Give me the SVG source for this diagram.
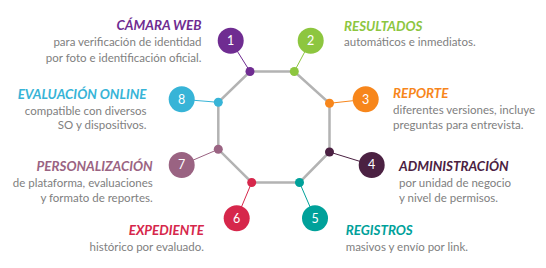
<svg xmlns="http://www.w3.org/2000/svg" width="546" height="268" viewBox="0 0 546 268">
<style>
.t{font-family:Lato,"Open Sans",sans-serif;font-weight:700;font-style:italic;font-size:13.4px}
.b{font-family:Lato,"Open Sans",sans-serif;font-size:11.5px;fill:#808080}
.n{font-family:Lato,"Open Sans",sans-serif;font-size:12.5px;fill:#fff;text-anchor:middle}
.r{text-anchor:end}
.oct{fill:none;stroke:#b3b3b3;stroke-width:2.5;stroke-linejoin:miter}
.sp{stroke-width:1}
</style>
<rect width="546" height="268" fill="#fff"/>
<g id="connectors">
<polygon class="oct" points="250,71.5 294.3,71.5 329.5,103.3 329.5,152 299.5,182.5 251.7,182.5 218.3,149.3 218.3,102.3"/>
<line class="sp" x1="250" y1="71.5" x2="230.7" y2="40.7" stroke="#6f2c91"/>
<line class="sp" x1="294.3" y1="71.5" x2="310.7" y2="40.7" stroke="#8dc63f"/>
<line class="sp" x1="329.5" y1="103.3" x2="365.7" y2="99.3" stroke="#f7861b"/>
<line class="sp" x1="329.5" y1="152" x2="371.7" y2="165" stroke="#4b2142"/>
<line class="sp" x1="299.5" y1="182.5" x2="315" y2="218.3" stroke="#00a19a"/>
<line class="sp" x1="251.7" y1="182.5" x2="236.7" y2="218.3" stroke="#d6274b"/>
<line class="sp" x1="218.3" y1="149.3" x2="181.7" y2="165" stroke="#9a6382"/>
<line class="sp" x1="218.3" y1="102.3" x2="181.7" y2="99.3" stroke="#37b4d7"/>
</g>
<g id="node1" fill="#6f2c91">
<circle cx="250" cy="71.5" r="4.5"/>
<circle cx="230.7" cy="40.7" r="13"/>
<text class="n" x="230.7" y="45">1</text>
<text class="t r" x="201.5" y="30">CÁMARA WEB</text>
<text class="b r" x="201.5" y="46">para verificación de identidad</text>
<text class="b r" x="201.5" y="61.5">por foto e identificación oficial.</text>
</g>
<g id="node2" fill="#8dc63f">
<circle cx="294.3" cy="71.5" r="4.5"/>
<circle cx="310.7" cy="40.7" r="13"/>
<text class="n" x="310.7" y="45">2</text>
<text class="t" x="344" y="30.5">RESULTADOS</text>
<text class="b" x="344" y="46">automáticos e inmediatos.</text>
</g>
<g id="node3" fill="#f7861b">
<circle cx="329.5" cy="103.3" r="4.5"/>
<circle cx="365.7" cy="99.3" r="13"/>
<text class="n" x="365.7" y="103.6">3</text>
<text class="t" x="393" y="98">REPORTE</text>
<text class="b" x="393" y="114">diferentes versiones, incluye</text>
<text class="b" x="393" y="128.5">preguntas para entrevista.</text>
</g>
<g id="node4" fill="#4b2142">
<circle cx="329.5" cy="152" r="4.5"/>
<circle cx="371.7" cy="165" r="13"/>
<text class="n" x="371.7" y="169.3">4</text>
<text class="t" x="399" y="171.3">ADMINISTRACIÓN</text>
<text class="b" x="399" y="187.3">por unidad de negocio</text>
<text class="b" x="399" y="202.3">y nivel de permisos.</text>
</g>
<g id="node5" fill="#00a19a">
<circle cx="299.5" cy="182.5" r="4.5"/>
<circle cx="315" cy="218.3" r="13"/>
<text class="n" x="315" y="222.6">5</text>
<text class="t" x="345.7" y="234.7">REGISTROS</text>
<text class="b" x="345.7" y="251.3">masivos y envío por link.</text>
</g>
<g id="node6" fill="#d6274b">
<circle cx="251.7" cy="182.5" r="4.5"/>
<circle cx="236.7" cy="218.3" r="13"/>
<text class="n" x="236.7" y="222.6">6</text>
<text class="t r" x="204" y="234.7">EXPEDIENTE</text>
<text class="b r" x="204" y="251.3">histórico por evaluado.</text>
</g>
<g id="node7" fill="#9a6382">
<circle cx="218.3" cy="149.3" r="4.5"/>
<circle cx="181.7" cy="165" r="13"/>
<text class="n" x="181.7" y="169.3">7</text>
<text class="t r" x="152.7" y="171.3">PERSONALIZACIÓN</text>
<text class="b r" x="152.7" y="187.3">de plataforma, evaluaciones</text>
<text class="b r" x="152.7" y="202.3">y formato de reportes.</text>
</g>
<g id="node8" fill="#37b4d7">
<circle cx="218.3" cy="102.3" r="4.5"/>
<circle cx="181.7" cy="99.3" r="13"/>
<text class="n" x="181.7" y="103.6">8</text>
<text class="t r" x="146.5" y="99">EVALUACIÓN ONLINE</text>
<text class="b r" x="146.5" y="114.5">compatible con diversos</text>
<text class="b r" x="146.5" y="129">SO y dispositivos.</text>
</g>
</svg>
